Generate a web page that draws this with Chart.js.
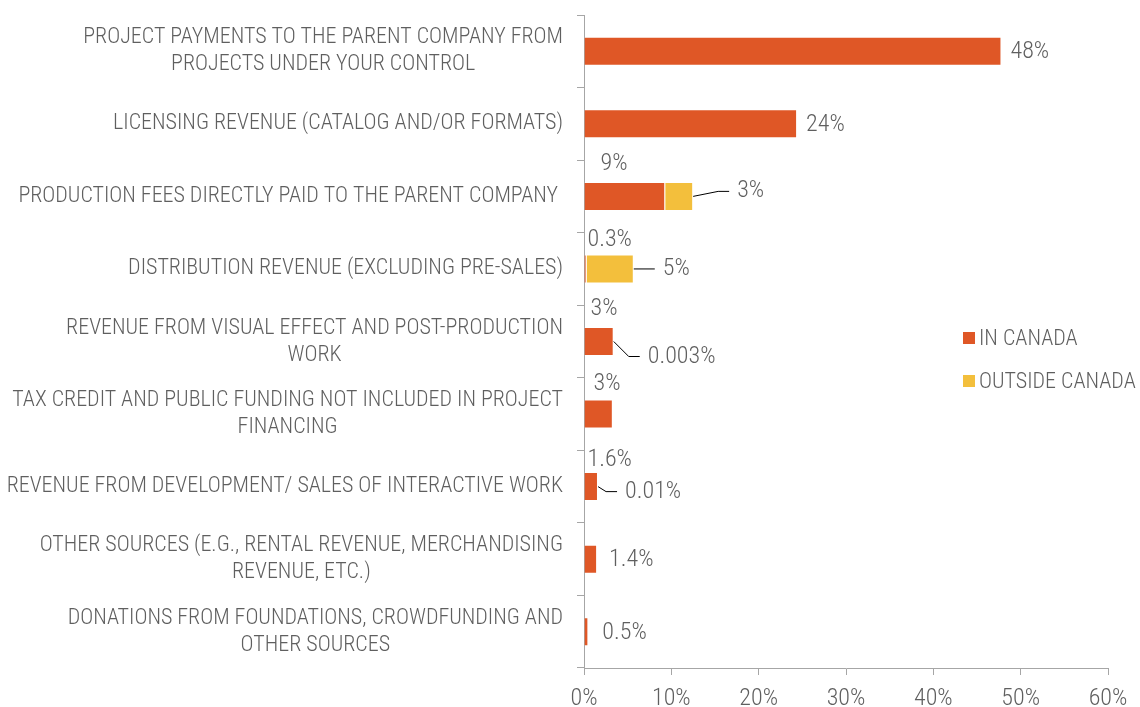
<!DOCTYPE html>
<html><head><meta charset="utf-8">
<script src="https://cdn.jsdelivr.net/npm/chart.js@4.4.1/dist/chart.umd.min.js"></script>
<style>html,body{margin:0;padding:0;background:#fff;}</style>
</head><body><canvas id="c" width="1140" height="707" style="display:block;width:1140px;height:707px"></canvas>
<script>
// ---- data ----
const categories = [
  ['PROJECT PAYMENTS TO THE PARENT COMPANY FROM', 'PROJECTS UNDER YOUR CONTROL'],
  ['LICENSING REVENUE (CATALOG AND/OR FORMATS)'],
  ['PRODUCTION FEES DIRECTLY PAID TO THE PARENT COMPANY '],
  ['DISTRIBUTION REVENUE (EXCLUDING PRE-SALES)'],
  ['REVENUE FROM VISUAL EFFECT AND POST-PRODUCTION', 'WORK'],
  ['TAX CREDIT AND PUBLIC FUNDING NOT INCLUDED IN PROJECT', 'FINANCING'],
  ['REVENUE FROM DEVELOPMENT/ SALES OF INTERACTIVE WORK'],
  ['OTHER SOURCES (E.G., RENTAL REVENUE, MERCHANDISING', 'REVENUE, ETC.)'],
  ['DONATIONS FROM FOUNDATIONS, CROWDFUNDING AND', 'OTHER SOURCES']
];
const seriesNames = ['IN CANADA', 'OUTSIDE CANADA'];
const inCanada = [47.8, 24.4, 9.3, 0.3, 3.4, 3.3, 1.6, 1.5, 0.5];
const outsideCanada = [0, 0, 3.2, 5.4, 0.003, 0, 0.01, 0, 0];
const inCanadaLabels = ['48%', '24%', '9%', '0.3%', '3%', '3%', '1.6%', '1.4%', '0.5%'];
const outsideCanadaLabels = [null, null, '3%', '5%', '0.003%', null, '0.01%', null, null];
const xTickValues = [0, 10, 20, 30, 40, 50, 60];

// ---- label placement (style, not data) ----
const inPlace = ['right', 'right', 'above', 'above', 'above', 'above', 'above', 'right', 'right'];
const inDx = [9, 9, 16, 3, 6, 9, 3, 12, 14];
const aboveDy = [0, 0, -32, -29, -33, -30, -27, 0, 0];
const outDx = [0, 0, 44, 29, 34, 0, 27, 0, 0];
const outDy = [0, 0, -5, 0, 15, 0, 5, 0, 0];

const COLORS = ['#DF5726', '#F3BF3C'];
const TEXT = '#5f5f5f';
const AXIS = '#a6a6a6';
const FAMILY = '"Roboto Condensed", "Open Sans", sans-serif';
const FS = 22;
const NUM_FS = 24;
const FW = 300;

const customPlugin = {
  id: 'customText',
  afterDraw(chart) {
    const ctx = chart.ctx;
    const ys = chart.scales.y;
    const area = chart.chartArea;
    ctx.save();
    ctx.font = FW + ' ' + FS + 'px ' + FAMILY;
    ctx.fillStyle = TEXT;
    ctx.textBaseline = 'middle';
    // category labels: right aligned block, lines centred within block
    const rightEdge = area.left - 21;
    categories.forEach((lines, i) => {
      const cy = ys.getPixelForValue(i);
      const w = Math.max(...lines.map(l => ctx.measureText(l).width));
      const cx = rightEdge - w / 2;
      ctx.textAlign = 'center';
      lines.forEach((l, j) => ctx.fillText(l, cx, cy + (j - (lines.length - 1) / 2) * 27));
    });
    // legend
    ctx.textAlign = 'left';
    const lx = 963, ly0 = 338, gap = 43;
    seriesNames.forEach((n, k) => {
      const yy = ly0 + k * gap;
      ctx.fillStyle = COLORS[k];
      ctx.fillRect(lx, yy - 6, 12, 12);
      ctx.fillStyle = TEXT;
      ctx.fillText(n, lx + 16, yy + 1);
    });
    // value labels
    ctx.font = FW + ' ' + NUM_FS + 'px ' + FAMILY;
    const m0 = chart.getDatasetMeta(0).data;
    const m1 = chart.getDatasetMeta(1).data;
    inCanadaLabels.forEach((t, i) => {
      if (!t) return;
      const b = m0[i];
      if (inPlace[i] === 'right') {
        ctx.fillText(t, b.x + inDx[i], b.y + 1);
      } else {
        ctx.fillText(t, b.base + inDx[i], b.y + aboveDy[i]);
      }
    });
    outsideCanadaLabels.forEach((t, i) => {
      if (!t) return;
      const b = m1[i];
      const endX = Math.max(b.x, m0[i].x);
      const lx2 = endX + outDx[i];
      const ly = b.y + outDy[i];
      ctx.fillText(t, lx2, ly);
      ctx.beginPath();
      ctx.strokeStyle = '#000';
      ctx.lineWidth = 1;
      ctx.moveTo(endX, b.y);
      if (outDy[i] !== 0) ctx.lineTo(lx2 - 19, ly);
      ctx.lineTo(lx2 - 8, ly);
      ctx.stroke();
    });
    ctx.restore();
  }
};

new Chart(document.getElementById('c'), {
  type: 'bar',
  data: {
    labels: categories.map(c => c.join(' ')),
    datasets: [
      { label: seriesNames[0], data: inCanada, backgroundColor: COLORS[0], borderColor: 'rgba(255,255,255,0.35)', borderWidth: 1, barPercentage: 0.4, categoryPercentage: 1 },
      { label: seriesNames[1], data: outsideCanada, backgroundColor: COLORS[1], borderColor: 'rgba(255,255,255,0.35)', borderWidth: 1, barPercentage: 0.4, categoryPercentage: 1 }
    ]
  },
  options: {
    indexAxis: 'y',
    responsive: false,
    maintainAspectRatio: false,
    animation: false,
    devicePixelRatio: 1,
    layout: { padding: { top: 15, right: 32, left: 0, bottom: 0 } },
    plugins: { legend: { display: false }, tooltip: { enabled: false } },
    scales: {
      x: {
        stacked: true, min: 0, max: 60,
        afterBuildTicks(s) { s.ticks = xTickValues.map(v => ({ value: v })); },
        afterFit(s) { s.height = 39; },
        ticks: { color: TEXT, font: { family: FAMILY, size: NUM_FS, weight: FW }, padding: 10, callback: v => v + '%', maxRotation: 0, autoSkip: false },
        grid: { drawOnChartArea: false, drawTicks: true, tickLength: 7, color: AXIS },
        border: { display: true, color: AXIS, width: 1 }
      },
      y: {
        stacked: true,
        afterFit(s) { s.width = 584; },
        ticks: { display: false },
        grid: { drawOnChartArea: false, drawTicks: true, tickLength: 7, color: AXIS, offset: true },
        border: { display: true, color: AXIS, width: 1 }
      }
    }
  },
  plugins: [customPlugin]
});
</script></body></html>
